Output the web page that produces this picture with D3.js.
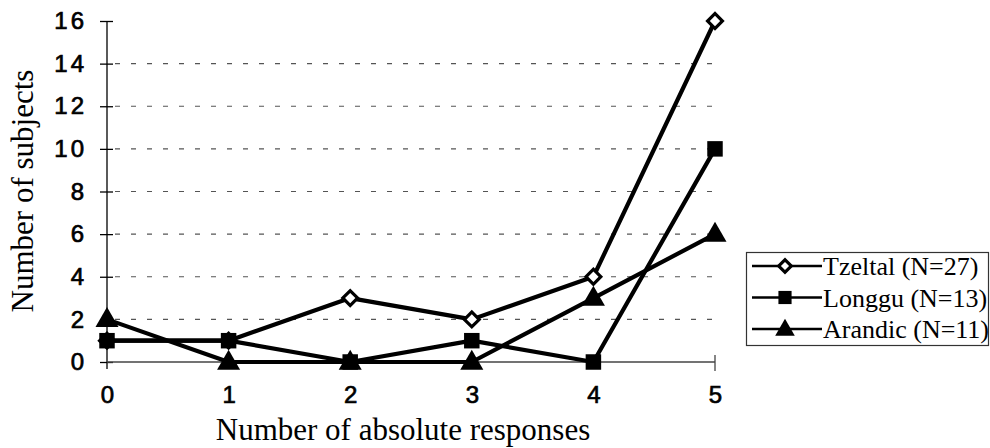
<!DOCTYPE html>
<html>
<head>
<meta charset="utf-8">
<script src="https://cdn.jsdelivr.net/npm/d3@7"></script>
<style>
  html, body { margin: 0; padding: 0; background: #fff; }
  svg { display: block; }
  .serif { font-family: "Liberation Serif", "Times New Roman", Times, "DejaVu Serif", serif; }
  .sans { font-family: "Liberation Sans", Arial, Helvetica, sans-serif; }
</style>
</head>
<body>
<div id="chart"></div>
<script>
const categories = [0, 1, 2, 3, 4, 5];
const tzeltal = [1, 1, 3, 2, 4, 16];
const longgu = [1, 1, 0, 1, 0, 10];
const arandic = [2, 0, 0, 0, 3, 6];
const yTicks = [0, 2, 4, 6, 8, 10, 12, 14, 16];
const seriesNames = ['Tzeltal (N=27)', 'Longgu (N=13)', 'Arandic (N=11)'];

const width = 990, height = 448;

const svg = d3.select('#chart')
  .append('svg')
  .attr('width', width)
  .attr('height', height);

const x = d3.scaleLinear().domain([0, 5]).range([107, 715]);
const y = d3.scaleLinear().domain([0, 16]).range([362, 21]);

// gridlines (none at 0 and 16)
svg.append('g')
  .selectAll('line')
  .data(yTicks.filter(d => d > 0 && d < 16))
  .join('line')
  .attr('x1', x(0) + 8)
  .attr('x2', x(5))
  .attr('y1', d => y(d))
  .attr('y2', d => y(d))
  .attr('stroke', '#555')
  .attr('stroke-width', 1.2)
  .attr('stroke-dasharray', '5,11');

// y axis
const yAxis = svg.append('g')
  .attr('transform', `translate(${x(0)},0)`)
  .call(d3.axisLeft(y).tickValues(yTicks).tickSize(7).tickPadding(13));
yAxis.select('.domain').remove();
yAxis.selectAll('.tick line')
  .attr('x1', 6)
  .attr('stroke', '#000')
  .attr('stroke-width', 1.3);
yAxis.selectAll('.tick text')
  .attr('class', 'sans')
  .attr('font-family', null)
  .attr('font-size', 24)
  .attr('letter-spacing', 3)
  .attr('fill', '#000')
  .attr('stroke', '#000')
  .attr('stroke-width', 0.7);
yAxis.attr('font-family', null);
yAxis.append('line')
  .attr('x1', 0).attr('x2', 0)
  .attr('y1', y(16)).attr('y2', y(0) + 7)
  .attr('stroke', '#000')
  .attr('stroke-width', 1.3);

// x axis
const xAxis = svg.append('g')
  .attr('transform', `translate(0,${y(0)})`)
  .call(d3.axisBottom(x).tickValues(categories).tickFormat(d3.format('d')).tickSize(0).tickPadding(24));
xAxis.attr('font-family', null);
xAxis.select('.domain').remove();
xAxis.selectAll('.tick text')
  .attr('class', 'sans')
  .attr('font-size', 24)
  .attr('fill', '#000')
  .attr('stroke', '#000')
  .attr('stroke-width', 0.7);
xAxis.append('line')
  .attr('x1', x(0)).attr('x2', x(5))
  .attr('y1', 0).attr('y2', 0)
  .attr('stroke', '#444')
  .attr('stroke-width', 1.5);
xAxis.append('line')
  .attr('x1', x(5)).attr('x2', x(5))
  .attr('y1', -7).attr('y2', 9)
  .attr('stroke', '#444')
  .attr('stroke-width', 1.3);

// axis titles
svg.append('text')
  .attr('class', 'serif')
  .attr('x', 403)
  .attr('y', 440)
  .attr('text-anchor', 'middle')
  .attr('font-size', 31)
  .text('Number of absolute responses');

svg.append('text')
  .attr('class', 'serif')
  .attr('transform', 'translate(33,191) rotate(-90)')
  .attr('text-anchor', 'middle')
  .attr('font-size', 31)
  .text('Number of subjects');

// markers
function drawMarker(g, type, cx, cy, scale) {
  const s = scale || 1;
  if (type === 'diamond') {
    g.append('path')
      .attr('d', d3.symbol().type(d3.symbolSquare).size(110 * s * s)())
      .attr('transform', `translate(${cx},${cy}) rotate(45)`)
      .attr('fill', '#fff')
      .attr('stroke', '#000')
      .attr('stroke-width', 3.2);
  } else if (type === 'square') {
    g.append('path')
      .attr('d', d3.symbol().type(d3.symbolSquare).size(240 * s * s)())
      .attr('transform', `translate(${cx},${cy})`)
      .attr('fill', '#000');
  } else {
    g.append('path')
      .attr('d', d3.symbol().type(d3.symbolTriangle).size(230 * s * s)())
      .attr('transform', `translate(${cx},${cy + 1})`)
      .attr('fill', '#000');
  }
}

const series = [
  { name: seriesNames[0], values: tzeltal, marker: 'diamond' },
  { name: seriesNames[1], values: longgu, marker: 'square' },
  { name: seriesNames[2], values: arandic, marker: 'triangle' }
];

const line = d3.line()
  .x((d, i) => x(categories[i]))
  .y(d => y(d));

series.forEach(s => {
  const g = svg.append('g');
  g.append('path')
    .datum(s.values)
    .attr('d', line)
    .attr('fill', 'none')
    .attr('stroke', '#000')
    .attr('stroke-width', 4.2)
    .attr('stroke-linejoin', 'round');
  s.values.forEach((v, i) => drawMarker(g, s.marker, x(categories[i]), y(v)));
});

// legend
const legend = svg.append('g');
legend.append('rect')
  .attr('x', 746.5)
  .attr('y', 252.5)
  .attr('width', 242)
  .attr('height', 93)
  .attr('fill', '#fff')
  .attr('stroke', '#333')
  .attr('stroke-width', 1.2);

const rowY = d3.scalePoint().domain(seriesNames).range([266, 329]);

series.forEach(s => {
  const cy = rowY(s.name);
  const g = legend.append('g');
  g.append('line')
    .attr('x1', 752).attr('x2', 822)
    .attr('y1', cy).attr('y2', cy)
    .attr('stroke', '#000')
    .attr('stroke-width', 2.5);
  drawMarker(g, s.marker, 785, cy, 0.85);
  g.append('text')
    .attr('class', 'serif')
    .attr('x', 823)
    .attr('y', cy)
    .attr('dy', '0.35em')
    .attr('font-size', 26)
    .text(s.name);
});
</script>
</body>
</html>
